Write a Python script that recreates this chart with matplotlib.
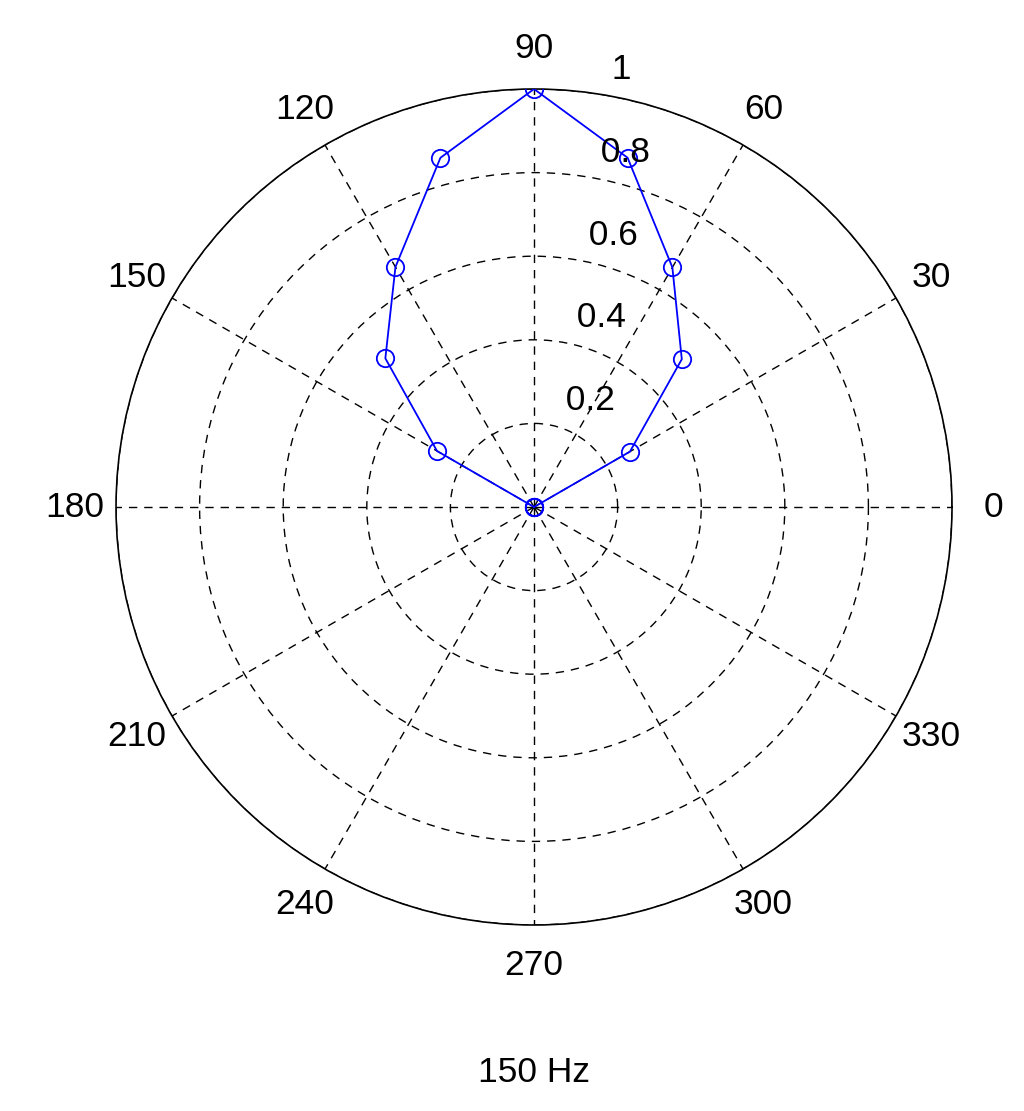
import matplotlib
matplotlib.use("Agg")
import matplotlib.pyplot as plt
import matplotlib.transforms as mtransforms
import numpy as np

# directivity pattern at 150 Hz (normalised), sampled every 15 degrees
angles_deg = [0, 15, 30, 45, 60, 75, 90, 105, 120, 135, 150, 165, 180]
magnitude = [0, 0, 0.265, 0.50, 0.662, 0.865, 1.0, 0.865, 0.663, 0.503, 0.268, 0, 0]

r_ticks = [0.2, 0.4, 0.6, 0.8, 1.0]
r_tick_labels = ["0.2", "0.4", "0.6", "0.8", "1"]
theta_ticks = list(range(0, 360, 30))
theta_labels = [str(a) for a in theta_ticks]
title = "150 Hz"

plt.rcParams["font.family"] = ["Liberation Sans", "DejaVu Sans"]
FS = 25.5

fig = plt.figure(figsize=(10.24, 11.11), dpi=100)
ax = fig.add_axes([0.1133, 0.1674, 0.8164, 0.7525], projection="polar")

theta = np.deg2rad(angles_deg)
ax.plot(theta, magnitude, color="blue", lw=1.3, marker="o", ms=12.5,
        mfc="none", mec="blue", mew=1.3, zorder=5)

ax.set_ylim(0, 1)
ax.set_yticks(r_ticks)
ax.set_yticklabels([])
ax.set_thetagrids(theta_ticks, theta_labels, fontsize=FS)
ax.tick_params(axis="x", pad=19)
ax.grid(True, color="black", ls=(0, (6, 5)), lw=1.0)
ax.spines["polar"].set_color("black")
ax.spines["polar"].set_linewidth(1.2)

# radial labels sit just above the circles, a little right of the 90 spoke
lab_tr = mtransforms.offset_copy(ax.transData, fig=fig, y=5, units="points")
for r, lab in zip(r_ticks, r_tick_labels):
    ax.text(np.deg2rad(82), r, "  " + lab, ha="left", va="bottom",
            fontsize=FS, zorder=6, transform=lab_tr)

fig.text(534 / 1024, 1 - 1073 / 1111, title, ha="center", va="center",
         fontsize=FS)

fig.savefig("out.png", dpi=100)
